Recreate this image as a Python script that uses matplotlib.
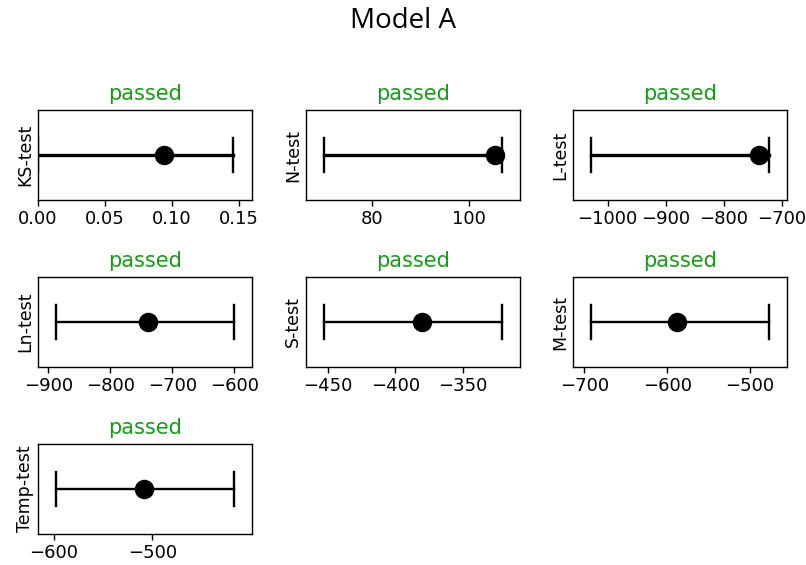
import matplotlib
matplotlib.use("Agg")
import matplotlib.pyplot as plt
import numpy as np

# consistency test results for Model A
tests = ["KS-test", "N-test", "L-test", "Ln-test", "S-test", "M-test", "Temp-test"]
observed = [0.094, 105.5, -740, -739, -380, -588, -509]
lower = [0.0, 70.0, -1029, -888, -453, -692, -598]
upper = [0.145, 106.9, -722, -600, -321, -477, -417]
results = ["passed"] * 7
xticks = [
    [0.00, 0.05, 0.10, 0.15],
    [80, 100],
    [-1000, -900, -800, -700],
    [-900, -800, -700, -600],
    [-450, -400, -350],
    [-700, -600, -500],
    [-600, -500],
]
xtick_labels = [
    ["0.00", "0.05", "0.10", "0.15"],
    ["80", "100"],
    ["\u22121000", "\u2212900", "\u2212800", "\u2212700"],
    ["\u2212900", "\u2212800", "\u2212700", "\u2212600"],
    ["\u2212450", "\u2212400", "\u2212350"],
    ["\u2212700", "\u2212600", "\u2212500"],
    ["\u2212600", "\u2212500"],
]

W, H = 806, 565
fig = plt.figure(figsize=(W / 100, H / 100), dpi=100)

lefts = [38, 306, 573]
tops = [110, 277, 444]
aw, ah = 214, 90

for i, name in enumerate(tests):
    r, c = divmod(i, 3)
    ax = fig.add_axes([lefts[c] / W, 1 - (tops[r] + ah) / H, aw / W, ah / H])
    lw = 2.4 if r == 0 else 1.7
    lo, hi = lower[i], upper[i]
    ax.plot([lo, hi], [0, 0], color="black", lw=lw, zorder=2)
    ax.plot([lo, lo], [-1, 1], color="black", lw=1.7, zorder=2)
    ax.plot([hi, hi], [-1, 1], color="black", lw=1.7, zorder=2)
    ax.plot([observed[i]], [0], "o", color="black", ms=13, zorder=3)
    span = hi - lo
    if i == 0:
        ax.set_xlim(0, hi + 0.1 * span)
    else:
        ax.set_xlim(lo - 0.1 * span, hi + 0.1 * span)
    ax.set_ylim(-2.6, 2.6)
    ax.set_yticks([])
    ax.set_xticks(xticks[i])
    ax.set_xticklabels(xtick_labels[i])
    ax.tick_params(axis="x", labelsize=13, length=4.5, width=1.0, pad=3)
    ax.set_ylabel(name, fontsize=12.5, labelpad=3)
    ax.set_title(results[i], color="#1a9a1a", fontsize=15, pad=7)
    for s in ax.spines.values():
        s.set_linewidth(1.0)

fig.suptitle("Model A", fontsize=20, family="Open Sans", y=1 - 21 / H, va="center")
fig.savefig("out.png", dpi=100)
